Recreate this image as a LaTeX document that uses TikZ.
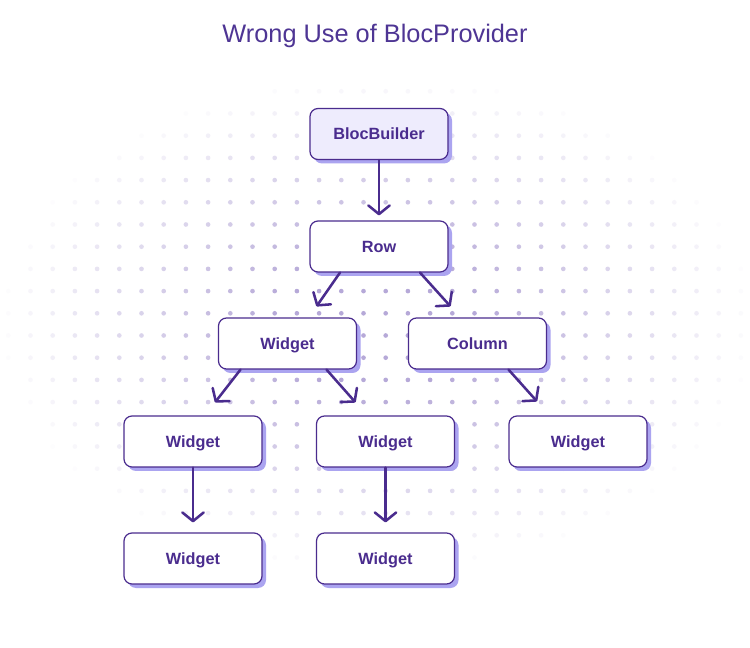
\documentclass[tikz,border=0pt]{standalone}
\usepackage{fontspec}
\setmainfont{Liberation Sans}
\usetikzlibrary{arrows.meta,calc,shadows}
\definecolor{ink}{HTML}{4A2C8E}
\definecolor{titlec}{HTML}{4E3594}
\definecolor{shadowc}{HTML}{ABA4F0}
\definecolor{bbfill}{HTML}{EEECFD}
\definecolor{dotc}{HTML}{B6A9D8}
\tikzset{
  box/.style={draw=ink, line width=0.9pt, fill=white, rounded corners=6pt,
    minimum width=103.5pt, minimum height=38.25pt, inner sep=0pt,
    text height=8.8pt, text depth=0pt,
    text=ink, font=\fontsize{12.2pt}{13pt}\selectfont\bfseries,
    drop shadow={shadow xshift=3pt, shadow yshift=-3pt, fill=shadowc, opacity=1}},
  arr/.style={draw=ink, line width=1.9pt, line cap=round,
    -{Straight Barb[length=6.5pt,width=16pt,round]}},
}
\begin{document}
\begin{tikzpicture}[x=0.75pt,y=-0.75pt]
\useasboundingbox (0,0) rectangle (750,648);
\fill[white] (0,0) rectangle (750,648);
% dot field
\foreach \i in {0,...,33}{
  \foreach \j in {0,...,22}{
    \pgfmathsetmacro\px{8.3+22.2*\i}
    \pgfmathsetmacro\py{91.3+22.2*\j}
    \pgfmathsetmacro\a{min(1,max(0,1.35*(1-sqrt(((\px-377)/380)^2+((\py-324)/250)^2))))}
    \ifdim\a pt>0.02pt
      \fill[dotc,opacity=\a] (\px,\py) circle (1.75pt);
    \fi
  }
}
\node[text=titlec, font=\fontsize{19pt}{22pt}\selectfont] (title) at (375,36) {Wrong Use of BlocProvider};
\node[box, fill=bbfill] (bb) at (379,134) {BlocBuilder};
\node[box] (row) at (379,246.5) {Row};
\node[box] (w2a) at (287.5,343.5) {Widget};
\node[box] (col) at (477.5,343.5) {Column};
\node[box] (w3a) at (193,441.5) {Widget};
\node[box] (w3b) at (385.5,441.5) {Widget};
\node[box] (w3c) at (578,441.5) {Widget};
\node[box] (w4a) at (193,558.5) {Widget};
\node[box] (w4b) at (385.5,558.5) {Widget};
\draw[arr] (bb.south) -- ($(row.north)+(0,-5)$);
\draw[arr] ($(row.south)+(-39,0)$) -- ($(w2a.north)+(29,-11)$);
\draw[arr] ($(row.south)+(41,0)$) -- ($(col.north)+(-27,-11)$);
\draw[arr] ($(w2a.south)+(-47,0)$) -- ($(w3a.north)+(22,-13)$);
\draw[arr] ($(w2a.south)+(39,0)$) -- ($(w3b.north)+(-30,-13)$);
\draw[arr] ($(col.south)+(31,0)$) -- ($(w3c.north)+(-41,-14)$);
\draw[arr] (w3a.south) -- ($(w4a.north)+(0,-10)$);
\draw[arr] (w3b.south) -- ($(w4b.north)+(0,-10)$);
\end{tikzpicture}
\end{document}
